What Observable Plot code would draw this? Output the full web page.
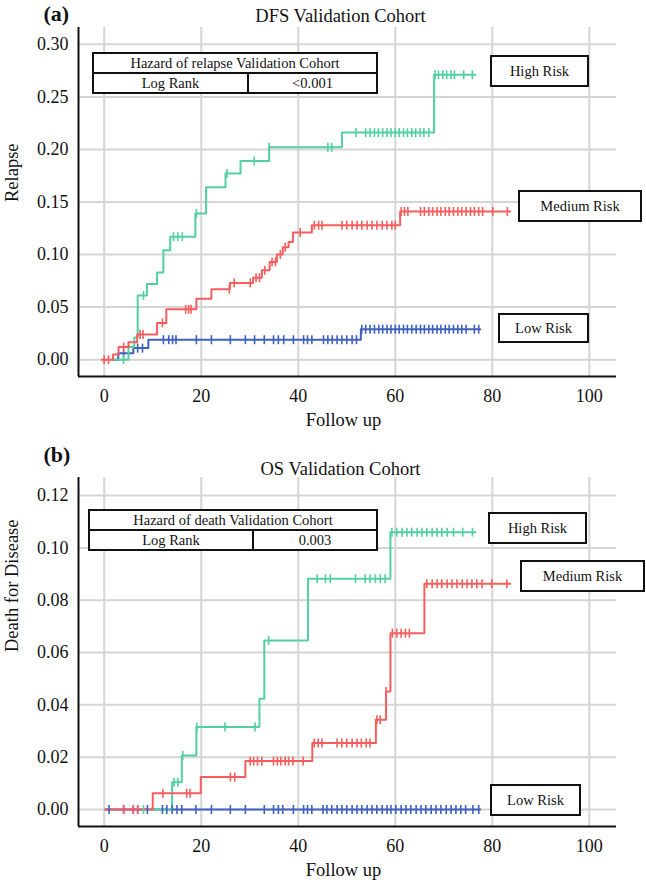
<!DOCTYPE html>
<html>
<head>
<meta charset="utf-8">
<script src="https://cdn.jsdelivr.net/npm/d3@7"></script>
<script src="https://cdn.jsdelivr.net/npm/@observablehq/plot@0.6"></script>
<style>
  body { margin: 0; background: white; }
  #wrap { position: relative; width: 646px; height: 888px; background: white; font-family: "Liberation Serif", "Times New Roman", serif; }
  #wrap svg, #wrap svg text { font-family: "Liberation Serif", "Times New Roman", serif !important; }
  .pane { position: absolute; left: 0; }
  .box { position: absolute; box-sizing: border-box; border: 2px solid #111; background: white; display: flex; align-items: center; justify-content: center; font-size: 14.5px; color: #111; }
  .tbl { position: absolute; box-sizing: border-box; border: 2px solid #111; background: white; font-size: 14.5px; color: #111; display: flex; flex-direction: column; }
  .tbl .r1 { flex: 1; display: flex; align-items: center; justify-content: center; border-bottom: 2px solid #111; }
  .tbl .r2 { flex: 1; display: flex; }
  .tbl .r2 div { display: flex; align-items: center; justify-content: center; }
</style>
</head>
<body>
<div id="wrap">
  <div id="pa" class="pane" style="top:0"></div>
  <div id="pb" class="pane" style="top:440px"></div>
</div>
<script>
// ---------- shared ticks ----------
const xTicks = [0, 20, 40, 60, 80, 100];
const yTicksA = [0, 0.05, 0.10, 0.15, 0.20, 0.25, 0.30];
const yTicksB = [0, 0.02, 0.04, 0.06, 0.08, 0.10, 0.12];
const riskGroups = ["High Risk", "Medium Risk", "Low Risk"];

// ---------- (a) DFS Validation Cohort : cumulative relapse (step after) ----------
const dfsHighT = [2, 5.0, 6.2, 6.9, 8.8, 10.9, 12.2, 13.6, 18.8, 21.0, 25.0, 28.1, 34.0, 49.0, 68.0];
const dfsHighV = [0, 0.012, 0.021, 0.061, 0.072, 0.083, 0.104, 0.117, 0.139, 0.164, 0.177, 0.189, 0.202, 0.216, 0.271];
const dfsHighEnd = 76.5;
const dfsHighCens = [4, 8.1, 14.3, 15.2, 16.1, 19.0, 25.3, 30.9, 34.0, 46.1, 46.9, 51.9, 53.9, 54.8, 55.7, 56.5, 57.4, 58.3, 59.1, 60.0, 60.8, 61.7, 62.5, 63.4, 64.2, 65.1, 65.9, 66.9, 68.2, 68.9, 69.8, 70.6, 71.5, 72.2, 74.1, 75.9];

const dfsMedT = [-0.5, 1.8, 2.95, 5.0, 6.8, 10.9, 12.8, 19.0, 22.1, 25.9, 30.7, 32.5, 34.1, 35.6, 36.8, 38.0, 38.9, 42.8, 61.0];
const dfsMedV = [0, 0.005, 0.012, 0.0165, 0.024, 0.035, 0.048, 0.058, 0.067, 0.073, 0.078, 0.085, 0.093, 0.100, 0.107, 0.112, 0.121, 0.128, 0.141];
const dfsMedEnd = 83.7;
const dfsMedCens = [0, 0.9, 4.0, 7.4, 8.0, 12.0, 16.8, 17.4, 17.9, 25.8, 26.8, 30.1, 31.3, 32.0, 33.1, 34.6, 35.3, 36.3, 37.3, 40.4, 43.3, 44.2, 44.9, 49.0, 50.0, 51.1, 52.1, 53.1, 54.2, 55.2, 56.2, 57.3, 58.3, 59.3, 60.0, 61.2, 61.9, 62.6, 65.2, 66.0, 66.9, 67.7, 68.6, 69.4, 70.3, 71.1, 72.0, 72.9, 73.7, 74.6, 75.5, 76.3, 77.2, 78.0, 80.1, 83.1];

const dfsLowT = [1.9, 2.9, 6.0, 9.1, 52.9];
const dfsLowV = [0, 0.006, 0.011, 0.019, 0.029];
const dfsLowEnd = 77.5;
const dfsLowCens = [4.0, 6.9, 7.9, 12.2, 13.3, 14.1, 14.8, 19.0, 22.1, 26.0, 29.1, 31.0, 33.0, 34.9, 35.9, 37.0, 39.0, 41.1, 41.9, 42.8, 45.2, 46.1, 47.0, 48.0, 49.0, 50.0, 51.1, 52.0, 53.1, 53.9, 54.8, 55.7, 56.6, 57.4, 58.3, 59.1, 60.0, 60.8, 61.7, 62.5, 63.4, 64.3, 65.2, 66.0, 66.9, 67.7, 68.6, 69.4, 70.3, 71.1, 72.0, 72.9, 73.7, 74.6, 76.3, 77.2];

// ---------- (b) OS Validation Cohort : cumulative death for disease ----------
const osHighT = [7.5, 14.0, 16.0, 19.0, 32.0, 33.0, 42.0, 59.0];
const osHighV = [0, 0.0104, 0.0206, 0.0315, 0.0423, 0.0646, 0.0882, 0.106];
const osHighEnd = 76.5;
const osHighCens = [8.1, 14.4, 15.2, 16.2, 19.1, 24.9, 31.1, 33.9, 43.9, 45.6, 46.6, 51.8, 53.8, 54.8, 55.9, 56.9, 57.9, 59.3, 60.3, 61.4, 62.4, 63.4, 64.5, 65.5, 66.5, 67.6, 68.6, 69.6, 70.7, 72.0, 73.9, 75.9];

const osMedT = [0.2, 10.0, 19.9, 29.1, 42.9, 56.0, 58.1, 59.0, 66.0];
const osMedV = [0, 0.0062, 0.0124, 0.0185, 0.0254, 0.0343, 0.0451, 0.0674, 0.0863];
const osMedEnd = 83.7;
const osMedCens = [4.0, 6.0, 6.9, 12.1, 17.0, 17.7, 26.0, 26.9, 30.1, 30.8, 31.6, 32.5, 34.9, 35.7, 36.4, 37.3, 38.0, 38.9, 41.0, 43.3, 44.1, 44.9, 48.0, 49.0, 50.0, 51.1, 52.1, 53.0, 54.0, 54.8, 56.2, 56.9, 58.1, 59.4, 60.3, 61.2, 62.1, 62.9, 66.5, 67.6, 68.6, 69.6, 70.7, 71.7, 72.7, 73.8, 74.8, 75.8, 76.8, 77.9, 79.9, 83.0];

const osLowT = [0.2];
const osLowV = [0];
const osLowEnd = 77.5;
const osLowCens = [1.0, 4.0, 6.0, 6.9, 8.9, 12.0, 12.9, 14.0, 15.0, 16.0, 18.9, 22.1, 26.0, 29.1, 33.0, 34.9, 35.9, 36.8, 39.0, 41.1, 41.9, 42.8, 45.1, 45.9, 46.9, 48.0, 49.0, 50.0, 51.1, 52.1, 53.1, 54.2, 55.2, 56.2, 57.3, 58.3, 59.1, 60.1, 61.2, 62.2, 63.2, 64.3, 65.3, 66.3, 67.4, 68.4, 69.4, 70.5, 71.5, 72.5, 73.5, 74.5, 76.0, 77.2];

// ---------- styling ----------
const colors = {"High Risk": "#52d0a2", "Medium Risk": "#f65e5e", "Low Risk": "#3f60bf"};
const FONT = '"Liberation Serif", "Times New Roman", serif';

// vertical censor tick symbol
const censorTick = {
  draw(ctx, size) { const r = Math.sqrt(size / Math.PI); ctx.moveTo(0, -r); ctx.lineTo(0, r); }
};

function stepValue(T, V, t) {
  let v = V[0];
  for (let i = 0; i < T.length; i++) if (T[i] <= t) v = V[i];
  return v;
}
function makeSeries(group, T, V, end, cens) {
  const pts = T.map((t, i) => ({group, t, v: V[i]}));
  pts.push({group, t: end, v: V[V.length - 1]});
  const cp = cens.map(t => ({group, t, v: stepValue(T, V, t)}));
  return {pts, cp};
}

function panel(cfg) {
  const {xDomain, yDomain, yTicks, series, title, tag, ylabel, height, marginTop, marginBottom, tagDy, titleDy} = cfg;
  const order = ["Low Risk", "High Risk", "Medium Risk"]; // drawing order
  const marks = [
    Plot.ruleX(xTicks, {stroke: "#d5d5d5", strokeWidth: 2}),
    Plot.ruleY(yTicks, {stroke: "#d5d5d5", strokeWidth: 2}),
    Plot.ruleX([xDomain[0]], {stroke: "#111", strokeWidth: 2}),
    Plot.ruleY([yDomain[0]], {stroke: "#111", strokeWidth: 2})
  ];
  for (const g of order) {
    const s = series[g];
    marks.push(Plot.line(s.pts, {x: "t", y: "v", curve: "step-after", stroke: colors[g], strokeWidth: 2}));
  }
  for (const g of order) {
    const s = series[g];
    marks.push(Plot.dot(s.cp, {x: "t", y: "v", symbol: censorTick, r: 4.5, fill: "none", stroke: colors[g], strokeWidth: 1.6}));
  }
  marks.push(
    Plot.text([title], {text: d => d, frameAnchor: "top", dx: -7, dy: titleDy, lineAnchor: "bottom", fontSize: 18.5, fontFamily: FONT}),
    Plot.text([tag], {text: d => d, frameAnchor: "top-left", dx: -35, dy: tagDy, lineAnchor: "bottom", textAnchor: "start", fontSize: 22, fontWeight: "bold", fontFamily: FONT}),
    Plot.text([ylabel], {text: d => d, frameAnchor: "left", dx: -66, rotate: -90, fontSize: 18.5, fontFamily: FONT}),
    Plot.text(["Follow up"], {text: d => d, frameAnchor: "bottom", dx: -4, dy: 49, fontSize: 18.5, fontFamily: FONT})
  );
  return Plot.plot({
    width: 646, height, marginTop, marginBottom, marginLeft: 78, marginRight: 30,
    style: `font-family: ${FONT}; font-size: 18px; color: #111; background: white; overflow: visible;`,
    x: {domain: xDomain, ticks: xTicks, tickSize: 0, tickPadding: 13, label: null},
    y: {domain: yDomain, ticks: yTicks, tickSize: 0, tickPadding: 10, tickFormat: d3.format(".2f"), label: null},
    marks
  });
}

const seriesA = {
  "High Risk": makeSeries("High Risk", dfsHighT, dfsHighV, dfsHighEnd, dfsHighCens),
  "Medium Risk": makeSeries("Medium Risk", dfsMedT, dfsMedV, dfsMedEnd, dfsMedCens),
  "Low Risk": makeSeries("Low Risk", dfsLowT, dfsLowV, dfsLowEnd, dfsLowCens)
};
const seriesB = {
  "High Risk": makeSeries("High Risk", osHighT, osHighV, osHighEnd, osHighCens),
  "Medium Risk": makeSeries("Medium Risk", osMedT, osMedV, osMedEnd, osMedCens),
  "Low Risk": makeSeries("Low Risk", osLowT, osLowV, osLowEnd, osLowCens)
};

document.getElementById("pa").append(panel({
  xDomain: [-5.3, 105.6], yDomain: [-0.016, 0.316], yTicks: yTicksA, series: seriesA,
  title: "DFS Validation Cohort", tag: "(a)", ylabel: "Relapse", height: 440, marginTop: 27, marginBottom: 64,
  tagDy: -7, titleDy: -6
}));
document.getElementById("pb").append(panel({
  xDomain: [-5.3, 105.6], yDomain: [-0.0065, 0.1269], yTicks: yTicksB, series: seriesB,
  title: "OS Validation Cohort", tag: "(b)", ylabel: "Death for Disease", height: 448, marginTop: 37, marginBottom: 62,
  tagDy: -16, titleDy: -3
}));

// ---------- annotation boxes (tables + risk labels) ----------
const tables = [
  {left: 92, top: 52, width: 286, height: 42, head: "Hazard of relapse Validation Cohort", k: "Log Rank", v: "<0.001", split: 153},
  {left: 88, top: 509, width: 290, height: 42, head: "Hazard of death Validation Cohort", k: "Log Rank", v: "0.003", split: 162}
];
const labelBoxes = [
  {text: riskGroups[0], left: 490, top: 55, width: 99, height: 32},
  {text: riskGroups[1], left: 518, top: 190, width: 124, height: 32},
  {text: riskGroups[2], left: 498, top: 313, width: 91, height: 30},
  {text: riskGroups[0], left: 488, top: 512, width: 99, height: 32},
  {text: riskGroups[1], left: 520, top: 560, width: 125, height: 32},
  {text: riskGroups[2], left: 490, top: 784, width: 91, height: 32}
];
const wrap = document.getElementById("wrap");
for (const t of tables) {
  const d = document.createElement("div");
  d.className = "tbl";
  Object.assign(d.style, {left: t.left + "px", top: t.top + "px", width: t.width + "px", height: t.height + "px"});
  d.innerHTML = `<div class="r1"></div><div class="r2"><div class="k" style="width:${t.split}px;border-right:2px solid #111"></div><div class="v" style="flex:1"></div></div>`;
  d.querySelector(".r1").textContent = t.head;
  d.querySelector(".k").textContent = t.k;
  d.querySelector(".v").textContent = t.v;
  wrap.append(d);
}
for (const b of labelBoxes) {
  const d = document.createElement("div");
  d.className = "box";
  Object.assign(d.style, {left: b.left + "px", top: b.top + "px", width: b.width + "px", height: b.height + "px"});
  d.textContent = b.text;
  wrap.append(d);
}
</script>
</body>
</html>
